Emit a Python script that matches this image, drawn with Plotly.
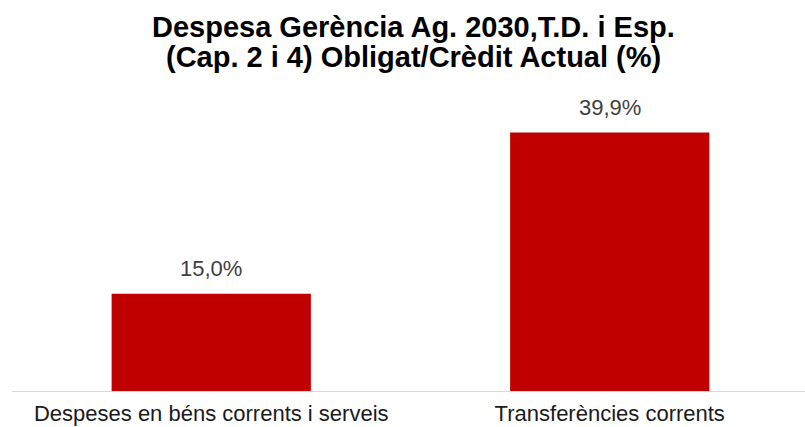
import plotly.graph_objects as go

categories = ["Despeses en béns corrents i serveis", "Transferències corrents"]
values = [15.0, 39.9]
title_lines = ["Despesa Gerència Ag. 2030,T.D. i Esp.", "(Cap. 2 i 4) Obligat/Crèdit Actual (%)"]

labels = [f"{v:.1f}".replace(".", ",") + "%" for v in values]

FONT = "Liberation Sans, Arial, sans-serif"

fig = go.Figure(go.Bar(
    x=categories, y=values,
    marker=dict(color="#C00000", line=dict(width=0)),
    hoverinfo="skip",
))

for c, v, t in zip(categories, values, labels):
    fig.add_annotation(x=c, y=v, text=t, showarrow=False, yshift=25, yanchor="middle",
                       font=dict(family=FONT, size=22, color="#404040"))

# title lines (two lines, placed in container pixels)
for i, line in enumerate(title_lines):
    fig.add_annotation(x=0.506, xref="paper", xanchor="center",
                       y=(391 - (27 + 30 * i)) / 291, yref="paper", yanchor="middle",
                       text="<b>" + line + "</b>", showarrow=False,
                       font=dict(family=FONT, size=29, color="black"))

fig.update_layout(
    width=805, height=427,
    margin=dict(l=12, r=0, t=100, b=36, autoexpand=False),
    paper_bgcolor="white", plot_bgcolor="white",
    bargap=0.5,
    showlegend=False,
    xaxis=dict(showline=True, linecolor="#D9D9D9", linewidth=1, ticks="", automargin=False,
               range=[-0.5, 1.49], ticklabelstandoff=3,
               tickfont=dict(family=FONT, size=22, color="#1a1a1a")),
    yaxis=dict(range=[0, 44.9], visible=False, showgrid=False, automargin=False),
)

fig.write_html("out.html", config={"displayModeBar": False},
               post_script="document.body.style.margin='0';document.body.style.overflow='hidden';")
